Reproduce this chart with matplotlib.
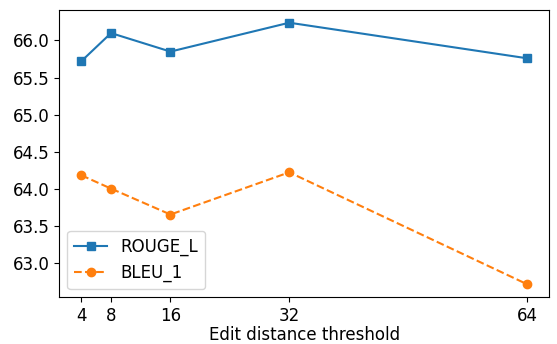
import matplotlib
matplotlib.use("Agg")
import matplotlib.pyplot as plt
from matplotlib.ticker import MultipleLocator, FormatStrFormatter

thresholds = [4, 8, 16, 32, 64]
rouge_l = [65.72, 66.10, 65.85, 66.24, 65.76]
bleu_1 = [64.18, 64.00, 63.65, 64.22, 62.71]

plt.rcParams["font.size"] = 12

fig, ax = plt.subplots(figsize=(5.57, 3.44), dpi=100)
ax.plot(thresholds, rouge_l, marker="s", linestyle="-", label="ROUGE_L")
ax.plot(thresholds, bleu_1, marker="o", linestyle="--", label="BLEU_1")
ax.set_xticks(thresholds)
ax.yaxis.set_major_locator(MultipleLocator(0.5))
ax.yaxis.set_major_formatter(FormatStrFormatter("%.1f"))
ax.set_xlabel("Edit distance threshold", labelpad=1)
ax.legend(loc="lower left")

fig.subplots_adjust(left=0.106, right=0.986, top=0.972, bottom=0.136)
fig.savefig("out.png", dpi=100)
plt.close(fig)
